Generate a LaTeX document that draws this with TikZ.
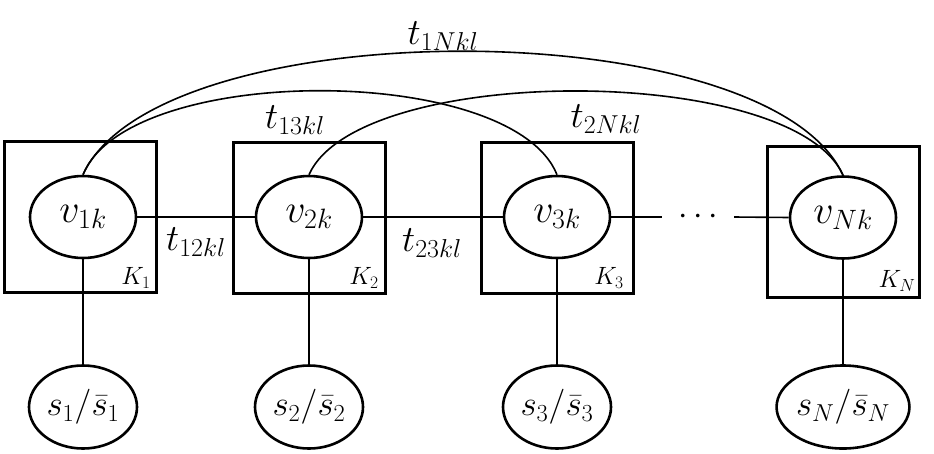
\RequirePackage{fix-cm}
\documentclass[tikz,border=0pt]{standalone}
\usetikzlibrary{shapes.geometric}
\begin{document}
\begin{tikzpicture}[x=1pt,y=-1pt,
  box/.style={draw, line width=3pt, minimum width=152pt, minimum height=151pt, inner sep=0pt},
  vnode/.style={ellipse, draw, line width=2.6pt, minimum width=106pt, minimum height=82pt, inner sep=0pt, font=\fontsize{40}{42}\selectfont},
  snode/.style={ellipse, draw, line width=2.6pt, minimum width=108pt, minimum height=83pt, inner sep=0pt, font=\fontsize{35}{37}\selectfont},
  lbl/.style={font=\fontsize{37}{39}\selectfont, inner sep=0pt},
  klbl/.style={font=\fontsize{25}{27}\selectfont, inner sep=0pt},
  conn/.style={line width=1.6pt}]
\useasboundingbox (0,0) rectangle (934,453);
% boxes
\node[box] (b1) at (80,217) {};
\node[box] (b2) at (309,218) {};
\node[box] (b3) at (557,217.5) {};
\node[box] (bN) at (843.5,221.5) {};
% variable nodes
\node[vnode] (v1) at (83,217) {$v_{1k}$};
\node[vnode] (v2) at (309,217) {$v_{2k}$};
\node[vnode] (v3) at (557,217) {$v_{3k}$};
\node[vnode] (vN) at (843,217.5) {$v_{Nk}$};
\node[font=\fontsize{34}{36}\selectfont, inner sep=0pt, minimum width=72pt] (dots) at (698,217) {$\cdots$};
% state nodes
\node[snode] (s1) at (83,407) {$s_1/\bar{s}_1$};
\node[snode] (s2) at (309,407) {$s_2/\bar{s}_2$};
\node[snode] (s3) at (557,407) {$s_3/\bar{s}_3$};
\node[snode] (sN) at (843,407) {$s_N/\bar{s}_N$};
% box labels
\node[klbl] (k1) at (136,278) {$K_1$};
\node[klbl] (k2) at (364,278) {$K_2$};
\node[klbl] (k3) at (609,278) {$K_3$};
\node[klbl] (kN) at (897,281) {$K_N$};
% connectors
\draw[conn] (v1.east) -- (v2.west);
\draw[conn] (v2.east) -- (v3.west);
\draw[conn] (v3.east) -- (dots.west);
\draw[conn] (dots.east) -- (vN.west);
\draw[conn] (v1.south) -- (s1.north);
\draw[conn] (v2.south) -- (s2.north);
\draw[conn] (v3.south) -- (s3.north);
\draw[conn] (vN.south) -- (sN.north);
\draw[conn] (v1.north) .. controls +(75,-165) and +(-75,-165) .. (vN.north);
\draw[conn] (v1.north) .. controls +(45,-112) and +(-45,-112) .. (v3.north);
\draw[conn] (v2.north) .. controls +(50,-112) and +(-50,-112) .. (vN.north);
% edge labels
\node[lbl] (t12) at (196,242) {$t_{12kl}$};
\node[lbl] (t23) at (432,243) {$t_{23kl}$};
\node[lbl] (t13) at (295,120) {$t_{13kl}$};
\node[lbl] (t2N) at (606,119) {$t_{2Nkl}$};
\node[lbl] (t1N) at (443,36) {$t_{1Nkl}$};
\end{tikzpicture}
\end{document}
